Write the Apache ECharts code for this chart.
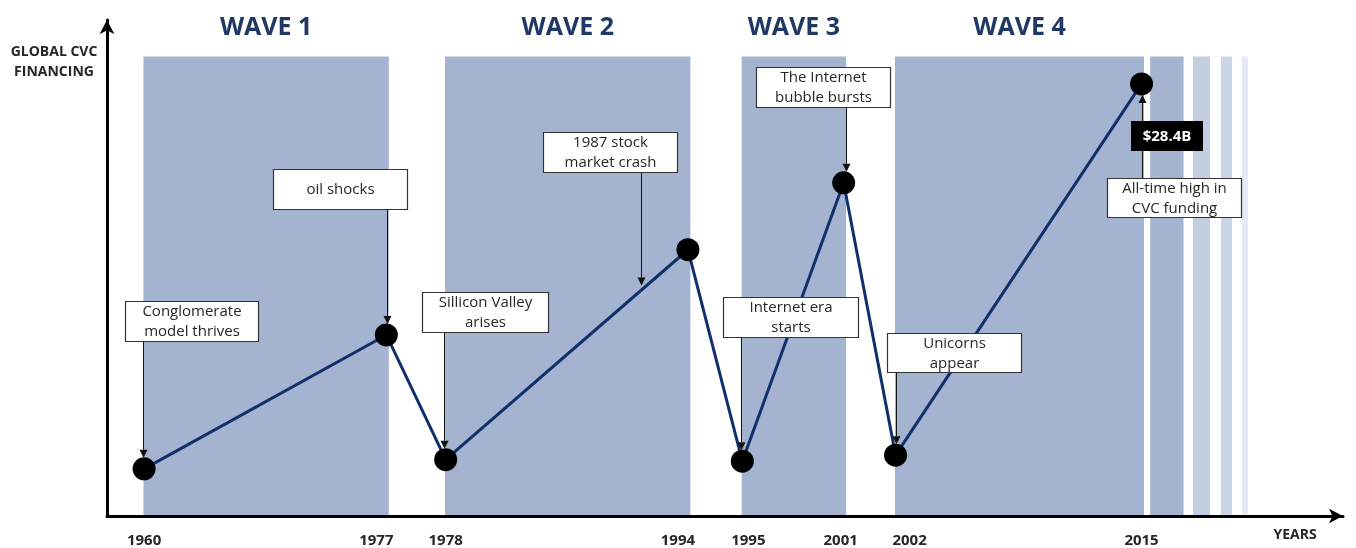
<!DOCTYPE html>
<html>
<head>
<meta charset="utf-8">
<script src="https://cdn.jsdelivr.net/npm/echarts@6/dist/echarts.min.js"></script>
<style>
  html, body { margin: 0; padding: 0; background: #fff; }
  #chart { width: 1356px; height: 548px; }
</style>
</head>
<body>
<div id="chart"></div>
<script>
// ---- DATA ----
// milestone years (labels on the schematic, non-linear timeline)
const years = ['1960', '1977', '1978', '1994', '1995', '2001', '2002', '2015'];
// position of each milestone on the schematic timeline (0-100 scale)
const timelinePos = [3, 22.6, 27.4, 47, 51.4, 59.6, 63.8, 83.7];
// global CVC financing, $B (schematic, 2015 = 28.4)
const financing = [3.1, 11.9, 3.7, 17.5, 3.6, 21.9, 4.0, 28.4];
// waves: [name, start milestone index, end milestone index]
const waves = [['WAVE 1', 0, 1], ['WAVE 2', 2, 3], ['WAVE 3', 4, 5], ['WAVE 4', 6, 7]];
// fading stripes after 2015 on the timeline scale
const futureStripes = [[84.4, 87.1], [87.86, 89.24], [90.13, 91.02], [91.83, 92.31]];
// annotations: text and the milestone (or segment [from, to, fraction]) they point to
const annotations = [
  { text: 'Conglomerate\nmodel thrives', at: 0 },
  { text: 'oil shocks', at: 1 },
  { text: 'Sillicon Valley\narises', at: 2 },
  { text: '1987 stock\nmarket crash', at: [2, 3, 0.806] },
  { text: 'The Internet\nbubble bursts', at: 5 },
  { text: 'Internet era\nstarts', at: 4 },
  { text: 'Unicorns\nappear', at: 6 },
  { text: 'All-time high in\nCVC funding', at: 7 }
];

// ---- LAYOUT / STYLE ----
const bandTop = 30.2;
const bandColor = '#A3B3D0';
const stripeColors = ['#A3B3D0', '#C2CDE2', '#CCD5E7', '#E4E9F3'];
const lineColor = '#10306B';
const titleColor = '#1F3864';
const textFont = '"Open Sans", sans-serif';
// box center dx, box top dy (relative to anchor), width, height, arrow dx, tip offset, direction
const annLayout = [
  { dx: 47.5, dy: -168, w: 133, h: 40, ax: -1, tip: -11, dir: 'down' },
  { dx: -46, dy: -166, w: 134, h: 40, ax: 1, tip: -11, dir: 'down' },
  { dx: 39, dy: -168, w: 126, h: 40, ax: -2, tip: -11, dir: 'down' },
  { dx: -31, dy: -158, w: 134, h: 40, ax: 0, tip: -5, dir: 'down' },
  { dx: -21, dy: -116, w: 134, h: 40, ax: 2, tip: -11, dir: 'down' },
  { dx: 48.5, dy: -164, w: 135, h: 40, ax: -1, tip: -11, dir: 'down' },
  { dx: 58, dy: -122, w: 134, h: 39, ax: 0, tip: -11, dir: 'down' },
  { dx: 32, dy: 94, w: 134, h: 39, ax: 0, tip: 11, dir: 'up' }
];
const valueBox = { dx: 25, dy: 37, w: 72, h: 30 };
const labelNudge = { '1960': 0, '1977': -10, '1978': 0, '1994': -10, '1995': 6, '2001': -3, '2002': 14, '2015': 0 };

const chart = echarts.init(document.getElementById('chart'), null, { renderer: 'canvas' });

const rich = {};
years.forEach(y => {
  const s = labelNudge[y] || 0;
  rich['y' + y] = {
    fontSize: 15, fontWeight: 'bold', color: '#262626', fontFamily: textFont,
    padding: s >= 0 ? [0, 0, 0, 2 * s] : [0, -2 * s, 0, 0]
  };
});

const waveAreas = waves.map(w => [
  { name: w[0], xAxis: timelinePos[w[1]] - 0.05, yAxis: 0 },
  { xAxis: timelinePos[w[2]] + 0.2, yAxis: bandTop }
]);
const stripeAreas = futureStripes.map((s, i) => [
  { xAxis: s[0], yAxis: 0, itemStyle: { color: stripeColors[i] } },
  { xAxis: s[1], yAxis: bandTop }
]);

chart.setOption({
  animation: false,
  backgroundColor: '#fff',
  grid: { left: 107, right: 13, top: 20, bottom: 31, containLabel: false },
  xAxis: {
    type: 'value', min: 0, max: 100,
    splitLine: { show: false },
    axisTick: { show: false },
    axisLine: { show: true, onZero: false, symbol: ['none', 'arrow'], symbolSize: [11, 14],
      lineStyle: { color: '#000', width: 3 } },
    axisLabel: {
      customValues: timelinePos,
      margin: 17,
      formatter: v => {
        let idx = -1, best = 1e9;
        timelinePos.forEach((p, i) => { if (Math.abs(p - v) < best) { best = Math.abs(p - v); idx = i; } });
        return '{y' + years[idx] + '|' + years[idx] + '}';
      },
      rich: rich
    },
    z: 5
  },
  yAxis: {
    type: 'value', min: 0, max: 32.6,
    splitLine: { show: false },
    axisTick: { show: false },
    axisLabel: { show: false },
    axisLine: { show: true, symbol: ['none', 'arrow'], symbolSize: [11, 14],
      lineStyle: { color: '#000', width: 3 } },
    z: 5
  },
  series: [
    {
      type: 'line',
      data: [],
      silent: true,
      markArea: {
        silent: true,
        itemStyle: { color: bandColor },
        label: {
          show: true, position: 'top', distance: 16,
          color: titleColor, fontSize: 25, fontWeight: 'bold', fontFamily: textFont
        },
        data: waveAreas
      },
      z: 1
    },
    {
      type: 'line',
      data: [],
      silent: true,
      markArea: {
        silent: true,
        label: { show: false },
        data: stripeAreas
      },
      z: 1
    },
    {
      name: 'Global CVC financing',
      type: 'line',
      data: years.map((y, i) => [timelinePos[i], financing[i]]),
      symbol: 'circle',
      symbolSize: 23,
      itemStyle: { color: '#000' },
      lineStyle: { color: lineColor, width: 3 },
      z: 10
    }
  ]
});

// ---- annotation graphics, anchored to the data points through the chart scales ----
function anchorPixel(at) {
  if (Array.isArray(at)) {
    const a = chart.convertToPixel({ gridIndex: 0 }, [timelinePos[at[0]], financing[at[0]]]);
    const b = chart.convertToPixel({ gridIndex: 0 }, [timelinePos[at[1]], financing[at[1]]]);
    return [a[0] + (b[0] - a[0]) * at[2], a[1] + (b[1] - a[1]) * at[2]];
  }
  return chart.convertToPixel({ gridIndex: 0 }, [timelinePos[at], financing[at]]);
}

const graphics = [];
annotations.forEach((a, i) => {
  const L = annLayout[i];
  const p = anchorPixel(a.at);
  const bx = Math.round(p[0] + L.dx - L.w / 2) + 0.5;
  const by = Math.round(p[1] + L.dy) + 0.5;
  const ax = Math.round(p[0] + L.ax) + 0.5;
  const tipY = p[1] + L.tip;
  const startY = L.dir === 'down' ? by + L.h : by;
  const headY = L.dir === 'down' ? tipY - 8 : tipY + 8;
  graphics.push({
    type: 'line', z: 50, silent: true,
    shape: { x1: ax, y1: startY, x2: ax, y2: headY },
    style: { stroke: '#111', lineWidth: 1 }
  });
  graphics.push({
    type: 'polygon', z: 50, silent: true,
    shape: { points: [[ax - 4, headY], [ax + 4, headY], [ax, tipY]] },
    style: { fill: '#111' }
  });
  graphics.push({
    type: 'rect', z: 60, silent: true,
    shape: { x: bx, y: by, width: L.w, height: L.h },
    style: { fill: '#fff', stroke: '#333', lineWidth: 1.2 }
  });
  graphics.push({
    type: 'text', z: 61, silent: true,
    x: bx + L.w / 2, y: by + L.h / 2 + 0.5,
    style: { text: a.text, fill: '#262626', fontSize: 15, fontFamily: textFont, lineHeight: 20,
      align: 'center', verticalAlign: 'middle' }
  });
});
// value badge for the final milestone
(function () {
  const last = financing.length - 1;
  const p = anchorPixel(last);
  const x = Math.round(p[0] + valueBox.dx - valueBox.w / 2), y = Math.round(p[1] + valueBox.dy);
  graphics.push({
    type: 'rect', z: 70, silent: true,
    shape: { x: x, y: y, width: valueBox.w, height: valueBox.h },
    style: { fill: '#000' }
  });
  graphics.push({
    type: 'text', z: 71, silent: true, x: x + valueBox.w / 2, y: y + valueBox.h / 2 + 0.5,
    style: { text: '$' + financing[last].toFixed(1) + 'B', fill: '#fff', fontSize: 15, fontWeight: 'bold',
      fontFamily: textFont, align: 'center', verticalAlign: 'middle' }
  });
})();
// axis titles
graphics.push({
  type: 'text', z: 60, silent: true, x: 54, y: 62,
  style: { text: 'GLOBAL CVC\nFINANCING', fill: '#262626', fontSize: 14, fontWeight: 'bold', fontFamily: textFont,
    lineHeight: 20, align: 'center', verticalAlign: 'middle' }
});
graphics.push({
  type: 'text', z: 60, silent: true, x: 1295, y: 535,
  style: { text: 'YEARS', fill: '#262626', fontSize: 14, fontWeight: 'bold', fontFamily: textFont,
    align: 'center', verticalAlign: 'middle' }
});

chart.setOption({ graphic: graphics });
</script>
</body>
</html>
